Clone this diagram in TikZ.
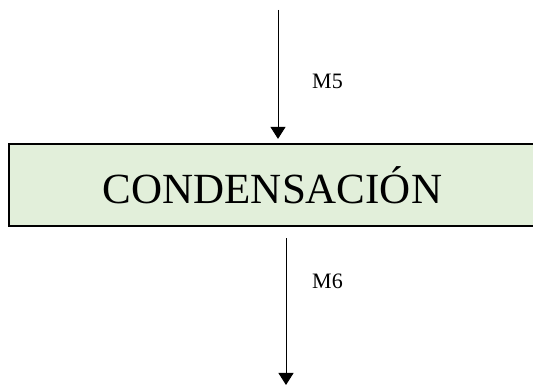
\documentclass[tikz,border=0pt]{standalone}
\usepackage{fontspec}
\setmainfont{Liberation Serif}
\usepackage{tikz}
\usetikzlibrary{arrows.meta}
\definecolor{stagegreen}{RGB}{226,239,218}

\begin{document}
\begin{tikzpicture}[x=1pt,y=1pt,
				stage box/.style={rectangle,draw=black,line width=2.2pt,fill=stagegreen,
					minimum width=527pt,minimum height=82pt,inner sep=0pt,
					font=\fontsize{43}{48}\selectfont},
				flow arrow/.style={-{Triangle[width=15pt,length=12pt]},line width=1pt},
				flow label/.style={anchor=base west,inner sep=0pt,font=\fontsize{22}{26}\selectfont}]
				\useasboundingbox (0,0) rectangle (533,385);
				
				\node[stage box] (cond) at (272.5,200) {CONDENSACIÓN};
				\coordinate (in) at (278,375);
				\coordinate (out) at (286,0);
				
				\draw[flow arrow,shorten >=4pt] (in) -- (in |- cond.north);
				\draw[flow arrow,shorten <=11pt] (out |- cond.south) -- (out);
				
				\node[flow label] (m5) at (312,296) {M5};
				\node[flow label] (m6) at (312,96) {M6};
			\end{tikzpicture}
\end{document}
